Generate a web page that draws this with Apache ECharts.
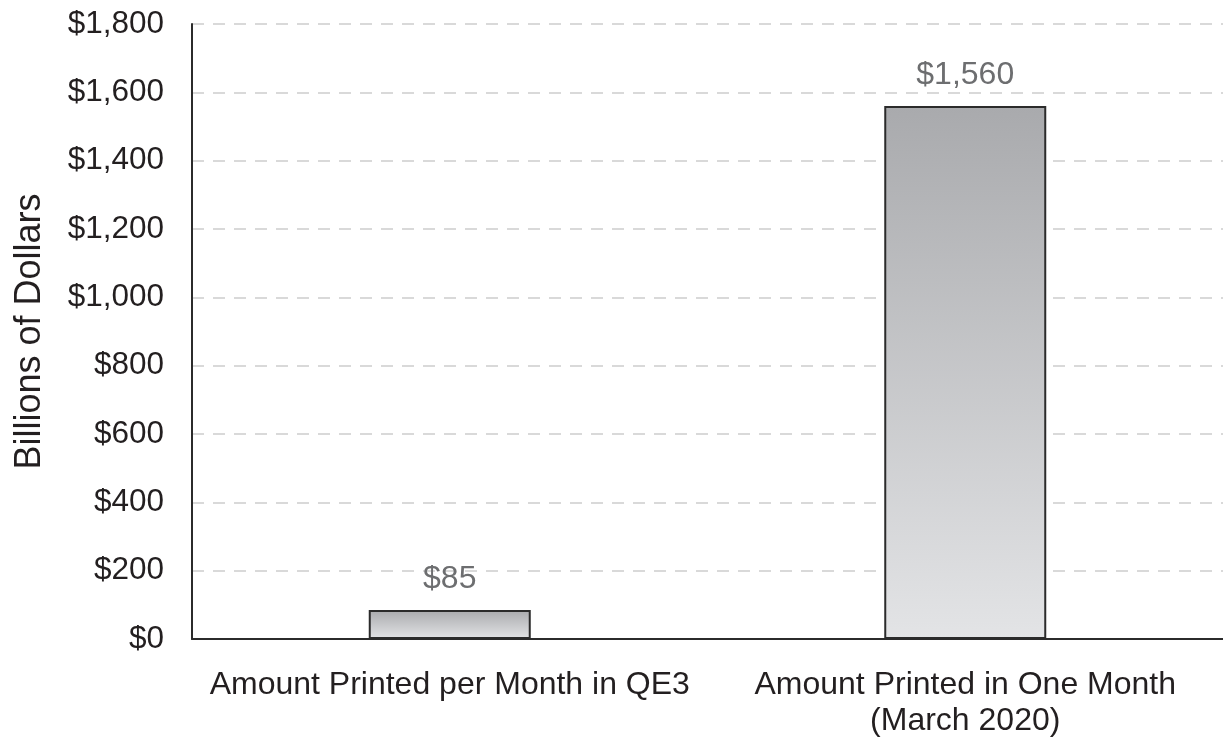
<!DOCTYPE html>
<html>
<head>
<meta charset="utf-8">
<style>html,body{margin:0;padding:0;background:#fff}#c{width:1223px;height:738px}</style>
<script src="https://cdn.jsdelivr.net/npm/echarts@6/dist/echarts.min.js"></script>
</head>
<body>
<div id="c"></div>
<script>
const categories = ['Amount Printed per Month in QE3', 'Amount Printed in One Month\n(March 2020)'];
const values = [85, 1560];
const yTicks = [0, 200, 400, 600, 800, 1000, 1200, 1400, 1600, 1800];
const yAxisName = 'Billions of Dollars';

const fmt = v => '$' + v.toLocaleString('en-US');
const FONT = '"Liberation Sans", Arial, Helvetica, sans-serif';

const chart = echarts.init(document.getElementById('c'), null, {renderer: 'canvas'});
chart.setOption({
  backgroundColor: '#ffffff',
  animation: false,
  grid: {left: 192, right: 0, top: 24, bottom: 99, containLabel: false, outerBoundsMode: 'none'},
  xAxis: {
    type: 'category',
    data: categories,
    axisLine: {show: true, lineStyle: {color: '#2b2b2b', width: 2}},
    axisTick: {show: false},
    axisLabel: {color: '#231f20', fontSize: 32, fontFamily: FONT, margin: 28, lineHeight: 36, interval: 0},
    splitLine: {show: false}
  },
  yAxis: {
    type: 'value',
    min: yTicks[0],
    max: yTicks[yTicks.length - 1],
    interval: 200,
    name: yAxisName,
    nameLocation: 'middle',
    nameGap: 144,
    nameTextStyle: {color: '#231f20', fontSize: 36, fontFamily: FONT},
    axisLine: {show: true, lineStyle: {color: '#2b2b2b', width: 2}},
    axisTick: {show: false},
    axisLabel: {color: '#231f20', fontSize: 31.5, fontFamily: FONT, margin: 28, formatter: v => fmt(v)},
    splitLine: {show: true, lineStyle: {color: '#d9d9d9', width: 2, type: [12, 9]}}
  },
  series: [{
    type: 'bar',
    data: values,
    barWidth: 162,
    itemStyle: {
      borderColor: '#2b2b2b',
      borderWidth: 2,
      color: new echarts.graphic.LinearGradient(0, 0, 0, 1, [
        {offset: 0, color: '#a9aaad'},
        {offset: 1, color: '#e3e4e6'}
      ])
    },
    label: {
      show: true,
      position: 'top',
      distance: 15,
      color: '#6d6e70',
      fontSize: 32,
      fontFamily: FONT,
      formatter: p => fmt(p.value)
    }
  }]
});
</script>
</body>
</html>
